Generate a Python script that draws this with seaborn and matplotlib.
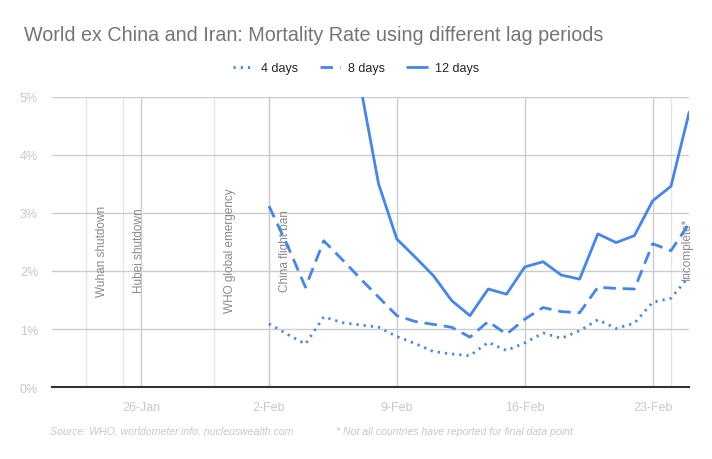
import pandas as pd
import numpy as np
import matplotlib
matplotlib.use('Agg')
import matplotlib.pyplot as plt
import matplotlib.dates as mdates
import seaborn as sns

# Data (mortality rate, %)
dates_4_8 = pd.date_range('2020-02-02', '2020-02-25')
lag_4 = [1.09, 0.91, 0.74, 1.21, 1.11, 1.07, 1.03, 0.87, 0.75, 0.61, 0.57, 0.54,
         0.77, 0.63, 0.76, 0.93, 0.84, 0.97, 1.16, 1.01, 1.10, 1.46, 1.53, 1.91]
lag_8 = [3.12, 2.45, 1.72, 2.52, 2.20, 1.87, 1.55, 1.23, 1.13, 1.08, 1.03, 0.86,
         1.13, 0.91, 1.17, 1.37, 1.30, 1.28, 1.72, 1.70, 1.69, 2.47, 2.35, 2.82]
dates_12 = pd.date_range('2020-02-07', '2020-02-25')
lag_12 = [5.20, 3.50, 2.55, 2.24, 1.92, 1.49, 1.23, 1.69, 1.60, 2.07, 2.16, 1.93,
          1.86, 2.64, 2.49, 2.61, 3.21, 3.46, 4.74]

events = ['2020-01-23', '2020-01-25', '2020-01-30', '2020-02-02', '2020-02-24']
event_labels = ['Wuhan shutdown', 'Hubei shutdown', 'WHO global emergency',
                'China flight ban', 'Incomplete*']
event_y = [2.36, 2.36, 2.36, 2.36, 2.4]

y_ticks = [0, 1, 2, 3, 4, 5]
x_ticks = ['2020-01-26', '2020-02-02', '2020-02-09', '2020-02-16', '2020-02-23']

blue = '#4285F4'

sns.set_style('white')
plt.rcParams['font.family'] = ['Liberation Sans', 'DejaVu Sans']

fig = plt.figure(figsize=(7.12, 4.6), dpi=100)
ax = fig.add_axes([0.073, 0.1565, 0.895, 0.6305])

# event lines and labels
for d, lab, yy in zip(events, event_labels, event_y):
    ax.axvline(pd.Timestamp(d), color='#e6e6e6', lw=1, zorder=0)
    ax.annotate(lab, xy=(mdates.date2num(pd.Timestamp(d)), yy), xytext=(7, 0),
                textcoords='offset points', rotation=90, ha='left', va='center',
                fontsize=8.5, color='#8a8a8a', zorder=1)

df4 = pd.DataFrame({'date': dates_4_8, 'rate': lag_4})
df8 = pd.DataFrame({'date': dates_4_8, 'rate': lag_8})
df12 = pd.DataFrame({'date': dates_12, 'rate': lag_12})

sns.lineplot(data=df4, x='date', y='rate', ax=ax, color=blue, lw=2,
             linestyle=(0, (0.8, 1.8)), label='4 days')
sns.lineplot(data=df8, x='date', y='rate', ax=ax, color=blue, lw=2,
             linestyle=(0, (4.5, 2.5)), label='8 days')
sns.lineplot(data=df12, x='date', y='rate', ax=ax, color=blue, lw=2,
             label='12 days')

ax.set_ylim(0, 5)
ax.set_xlim(pd.Timestamp('2020-01-21 03:00'), pd.Timestamp('2020-02-25'))
ax.set_yticks(y_ticks)
ax.set_yticklabels([f'{v}%' for v in y_ticks])
ax.set_xticks([pd.Timestamp(t) for t in x_ticks])
ax.xaxis.set_major_formatter(mdates.DateFormatter('%-d-%b'))
ax.grid(True, color='#cccccc', lw=1)
ax.set_axisbelow(True)
for s in ['top', 'right', 'left']:
    ax.spines[s].set_visible(False)
ax.spines['bottom'].set_color('#333333')
ax.spines['bottom'].set_linewidth(1.5)
ax.tick_params(axis='both', length=0, labelsize=9, labelcolor='#c8c8c8')
ax.tick_params(axis='x', pad=10)
ax.tick_params(axis='y', pad=10)
ax.set_xlabel('')
ax.set_ylabel('')

ax.legend(loc='center', bbox_to_anchor=(0.5, 0.85), bbox_transform=fig.transFigure,
          ncol=3, frameon=False, fontsize=9, handlelength=1.6, columnspacing=1.8,
          handletextpad=0.6)

fig.text(0.034, 0.922, 'World ex China and Iran: Mortality Rate using different lag periods',
         fontsize=14.2, color='#757575', va='center', ha='left')
fig.text(0.070, 0.061, 'Source: WHO, worldometer.info, nucleuswealth.com',
         fontsize=7.6, style='italic', color='#c8c8c8', va='center')
fig.text(0.472, 0.061, '* Not all countries have reported for final data point',
         fontsize=7.6, style='italic', color='#c8c8c8', va='center')

plt.savefig('out.png', dpi=100)
